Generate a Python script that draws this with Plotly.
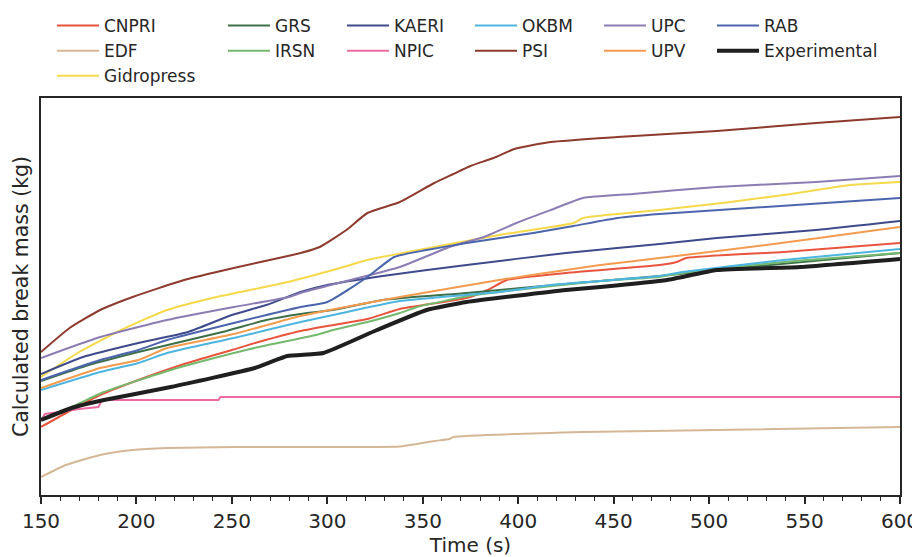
import plotly.graph_objects as go

# break mass curves (y in arbitrary kg units, no tick labels shown)
t_cnpri = [150, 166, 181, 201, 225, 250, 264, 286, 300, 321, 338, 373, 384, 394, 425, 474, 483, 488, 539, 600]
m_cnpri = [68, 85, 100, 115, 131, 145, 153, 164, 169, 176, 186, 197, 205, 215, 222, 230, 233, 237, 243, 252]

t_edf = [150, 163, 181, 198, 216, 251, 338, 347, 356, 364, 366, 434, 504, 600]
m_edf = [18, 30, 40, 45, 47, 48, 48.5, 51, 54, 56, 58, 63, 65, 68]

t_gidro = [150, 170, 192, 216, 242, 277, 303, 321, 356, 390, 429, 434, 452, 474, 507, 539, 574, 600]
m_gidro = [118, 143, 165, 185, 198, 212, 225, 235, 248, 260, 272, 277, 281, 285, 292, 300, 310, 313]

t_grs = [150, 175, 201, 245, 268, 286, 303, 329, 373, 425, 443, 474, 504, 600]
m_grs = [114, 130, 143, 163, 175, 181, 185, 195, 202, 211, 214, 219, 225, 242]

t_irsn = [150, 166, 183, 218, 251, 264, 294, 303, 321, 338, 347, 377, 408, 443, 474, 486, 539, 600]
m_irsn = [75, 88, 103, 125, 142, 148, 160, 165, 173, 182, 188, 200, 207, 214, 218, 222, 233, 242]

t_kaeri = [150, 172, 201, 227, 250, 268, 286, 300, 329, 373, 425, 474, 504, 556, 600]
m_kaeri = [121, 138, 152, 163, 180, 190, 203, 210, 219, 230, 242, 251, 257, 265, 274]

t_npic = [150, 152, 160, 170, 180, 182, 243, 244, 600]
m_npic = [74, 81, 83, 86, 88, 95, 95, 98, 98]

t_okbm = [150, 181, 201, 216, 251, 286, 303, 338, 390, 417, 443, 474, 486, 539, 600]
m_okbm = [105, 123, 132, 142, 157, 173, 180, 194, 203, 210, 214, 219, 223, 235, 246]

t_psi = [150, 165, 181, 198, 225, 251, 277, 286, 296, 310, 321, 338, 356, 366, 375, 387, 398, 417, 452, 504, 556, 600]
m_psi = [143, 167, 185, 198, 215, 227, 238, 242, 248, 265, 282, 293, 312, 321, 329, 337, 346, 353, 358, 364, 372, 378]

t_upc = [150, 181, 216, 251, 280, 286, 312, 338, 364, 382, 399, 417, 434, 460, 504, 556, 600]
m_upc = [137, 158, 175, 188, 198, 202, 215, 228, 248, 258, 272, 285, 297, 301, 308, 313, 319]

t_upv = [150, 181, 201, 216, 251, 286, 338, 390, 425, 443, 474, 530, 588, 600]
m_upv = [107, 127, 135, 147, 161, 179, 198, 215, 225, 230, 237, 250, 265, 268]

t_rab = [150, 181, 201, 216, 251, 286, 300, 321, 335, 352, 373, 408, 429, 452, 474, 600]
m_rab = [115, 135, 145, 155, 172, 188, 193, 218, 238, 245, 252, 262, 269, 277, 281, 297]

t_exp = [150, 166, 183, 218, 262, 279, 298, 326, 352, 373, 425, 443, 478, 504, 548, 600]
m_exp = [75, 87, 95, 108, 127, 139, 142, 165, 185, 193, 205, 208, 215, 225, 228, 236]

series = [
    ("CNPRI", t_cnpri, m_cnpri, "#e8553e", "legend"),
    ("EDF", t_edf, m_edf, "#d4b896", "legend"),
    ("Gidropress", t_gidro, m_gidro, "#f5d94a", "legend"),
    ("GRS", t_grs, m_grs, "#3d7049", "legend2"),
    ("IRSN", t_irsn, m_irsn, "#74b96e", "legend2"),
    ("KAERI", t_kaeri, m_kaeri, "#3e4a8b", "legend3"),
    ("NPIC", t_npic, m_npic, "#ec6ba0", "legend3"),
    ("OKBM", t_okbm, m_okbm, "#4db5e0", "legend4"),
    ("PSI", t_psi, m_psi, "#8e3a2f", "legend4"),
    ("UPC", t_upc, m_upc, "#8b7db4", "legend5"),
    ("UPV", t_upv, m_upv, "#f39b4f", "legend5"),
    ("RAB", t_rab, m_rab, "#4c65ad", "legend6"),
]

fig = go.Figure()
for name, t, m, col, leg in series:
    # NPIC is a step-like curve, the others are smooth
    shape = "linear" if name == "NPIC" else "spline"
    fig.add_trace(go.Scatter(x=t, y=m, mode="lines", name=name, legend=leg,
                             line=dict(color=col, width=2, shape=shape, smoothing=0.5)))
fig.add_trace(go.Scatter(x=t_exp, y=m_exp, mode="lines", name="Experimental", legend="legend6",
                         line=dict(color="#1f1f1f", width=4, shape="spline", smoothing=0.4)))

txt = "#262626"
# page body adds an 8px offset, so the figure is 912x549 and the plot box is 33..892 x 90..487
W, H = 912, 549
leg_style = dict(yref="container", y=1 + 11 / H, yanchor="top", xanchor="left",
                 bgcolor="rgba(0,0,0,0)", font=dict(family="DejaVu Sans", size=17, color=txt),
                 itemwidth=42, tracegroupgap=0)
leg_x = [44, 215, 334, 462, 591, 704]

fig.update_layout(
    width=W, height=H,
    margin=dict(l=33, r=20, t=90, b=62),
    plot_bgcolor="white", paper_bgcolor="white",
    font=dict(family="DejaVu Sans", size=20, color=txt),
    legend=dict(x=(leg_x[0] - 33) / 859, **leg_style),
    legend2=dict(x=(leg_x[1] - 33) / 859, **leg_style),
    legend3=dict(x=(leg_x[2] - 33) / 859, **leg_style),
    legend4=dict(x=(leg_x[3] - 33) / 859, **leg_style),
    legend5=dict(x=(leg_x[4] - 33) / 859, **leg_style),
    legend6=dict(x=(leg_x[5] - 33) / 859, **leg_style),
)
fig.update_xaxes(range=[150, 600], dtick=50, tick0=150, showgrid=False, zeroline=False,
                 showline=True, mirror=True, linecolor=txt, linewidth=1.5, automargin=False,
                 ticks="outside", ticklen=7, tickwidth=1.5, tickcolor=txt,
                 minor=dict(dtick=10, ticks="outside", ticklen=4, tickwidth=1.2, tickcolor=txt),
                 tickfont=dict(size=20), title=dict(text="Time (s)", font=dict(size=20), standoff=4))
fig.update_yaxes(range=[0, 397], showgrid=False, zeroline=False, showticklabels=False,
                 showline=True, mirror=True, linecolor=txt, linewidth=1.5, ticks="", automargin=False,
                 title=dict(text="Calculated break mass (kg)", font=dict(size=20.5), standoff=5))

fig.write_html("out.html")
